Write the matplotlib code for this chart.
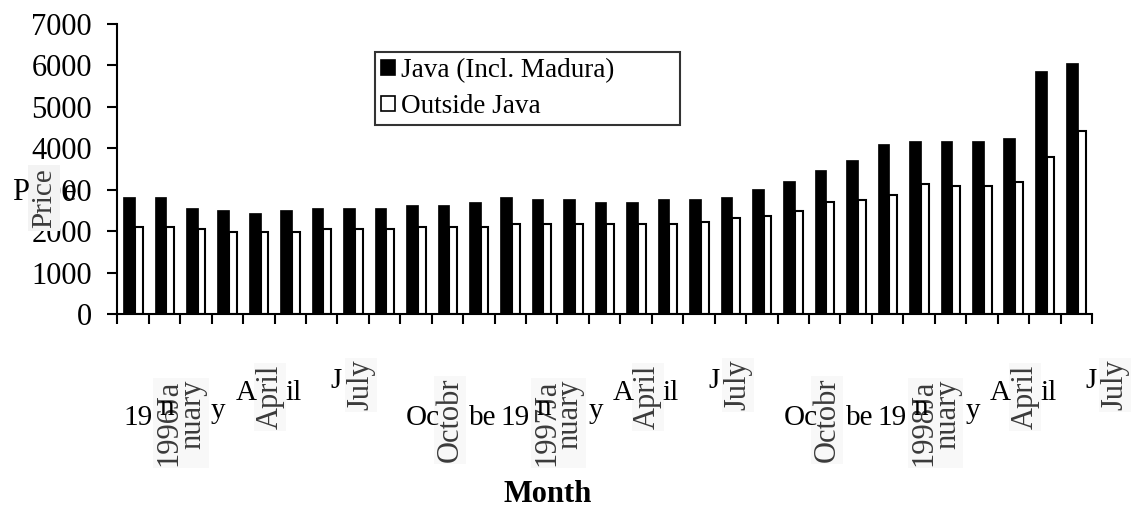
import numpy as np
import matplotlib
matplotlib.use("Agg")
import matplotlib.pyplot as plt
from matplotlib.patches import Patch
from matplotlib.transforms import blended_transform_factory, offset_copy

# monthly prices, January 1996 .. July 1998
java = [2830, 2830, 2570, 2510, 2450, 2510, 2570, 2570, 2570, 2630, 2630,
        2710, 2830, 2770, 2770, 2710, 2710, 2770, 2770, 2830, 3020, 3210,
        3480, 3720, 4100, 4180, 4180, 4180, 4250, 5860, 6050]
outside = [2100, 2100, 2050, 1990, 1990, 1990, 2050, 2050, 2050, 2100, 2100,
           2100, 2170, 2170, 2170, 2170, 2170, 2170, 2230, 2310, 2370, 2490,
           2700, 2750, 2870, 3150, 3080, 3080, 3190, 3800, 4420]
# rotated month labels, every third month (as they appear in the picture)
month_labels = ['1996Ja\nnuary', 'April', 'July', 'Octobr',
                '1997Ja\nnuary', 'April', 'July', 'Octobr',
                '1998Ja\nnuary', 'April', 'July']
yticks = [0, 1000, 2000, 3000, 4000, 5000, 6000, 7000]

SERIF = ['Liberation Serif', 'DejaVu Serif']
W, H = 1135, 509

fig = plt.figure(figsize=(W / 100, H / 100), dpi=100, facecolor='white')
ax = fig.add_axes([117.3 / W, 1 - 314 / H, (1092 - 117.3) / W, 290 / H])

x = np.arange(len(java))
ax.bar(x - 0.13, java, 0.37, color='black', edgecolor='black', lw=0.5, zorder=2)
ax.bar(x + 0.18, outside, 0.25, color='white', edgecolor='black', lw=1.5, zorder=2)

ax.set_xlim(-0.5, len(java) - 0.5)
ax.set_ylim(0, 7000)
ax.set_yticks(yticks)
ax.set_yticklabels([str(v) for v in yticks], fontsize=22, family=SERIF)
ax.set_xticks(np.arange(len(java) + 1) - 0.5)
ax.set_xticklabels([])
ax.tick_params(axis='both', direction='out', length=7.2, width=1.5, color='black')
ax.tick_params(axis='y', pad=11)
for s in ['top', 'right']:
    ax.spines[s].set_visible(False)
for s in ['left', 'bottom']:
    ax.spines[s].set_linewidth(1.5)

# legend (box wider than its text, as in the picture)
handles = [Patch(facecolor='black', edgecolor='black', lw=1.2),
           Patch(facecolor='white', edgecolor='black', lw=1.2)]
leg = fig.legend(handles, ['Java (Incl. Madura)', 'Outside Java'],
                 loc='upper left', mode='expand',
                 bbox_to_anchor=(375 / W, 1 - 121 / H, 305 / W, 69 / H),
                 prop={'family': SERIF, 'size': 19.5}, frameon=True, fancybox=False,
                 handlelength=0.5, handleheight=0.5, handletextpad=0.25,
                 labelspacing=0.42, borderpad=0.22, borderaxespad=0)
leg.get_frame().set_edgecolor('black')
leg.get_frame().set_linewidth(1.5)

# month labels: rotated (blurred grey) with horizontal fragments on top
trans = blended_transform_factory(ax.transData, fig.transFigure)
rot_pos = {'Ja': (48, 423), 'Ap': (43, 397), 'Ju': (39, 385), 'Oc': (34, 420)}
frags = {'Ja': [('19', -10, 425), ('n', 26, 415), ('y', 78, 418)],
         'Ap': [('A', 8, 400), ('il', 58, 400)],
         'Ju': [('J', 9, 388)],
         'Oc': [('Oc', -10, 425), ('be', 53, 425)]}
for k, lab in enumerate(month_labels):
    key = 'Ja' if 'Ja' in lab else lab[:2]
    xc = 3 * k
    dx, yc = rot_pos[key]
    fig.text(xc, 1 - yc / H, lab, rotation=90, ha='center', va='center',
             multialignment='right', linespacing=0.75, fontsize=22, family=SERIF,
             color='#3a3a3a', transform=offset_copy(trans, fig=fig, x=dx, units='dots'),
             bbox=dict(facecolor='#f8f8f8', edgecolor='none', pad=1))
    for txt, fx, base in frags[key]:
        fig.text(xc, 1 - base / H, txt, ha='left', va='baseline', fontsize=21,
                 family=SERIF, color='black',
                 transform=offset_copy(trans, fig=fig, x=fx, units='dots'))

# y label: rotated "Price" over the 3000 tick label, with horizontal pieces
fig.text(44 / W, 1 - 198 / H, 'Price', rotation=90, ha='center', va='center',
         fontsize=21, family=SERIF, color='#3a3a3a',
         bbox=dict(facecolor='#f3f3f3', edgecolor='none', pad=2))
fig.text(12 / W, 1 - 200 / H, 'P', ha='left', va='baseline', fontsize=22, family=SERIF)
fig.text(63 / W, 1 - 200 / H, 'e', ha='left', va='baseline', fontsize=22, family=SERIF)

fig.text(548 / W, 1 - 494 / H, 'Month', ha='center', va='center', fontsize=22,
         fontweight='bold', family=SERIF)

fig.savefig('out.png', dpi=100, facecolor='white')
